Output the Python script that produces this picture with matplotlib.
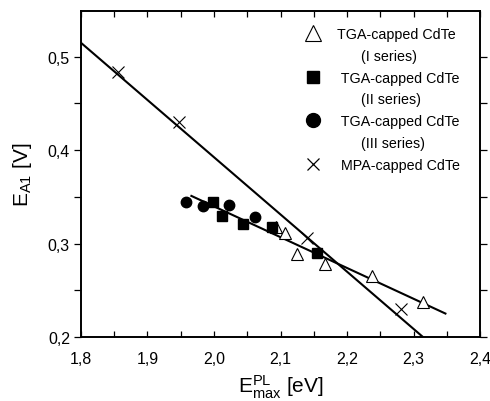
import matplotlib
matplotlib.use("Agg")
import matplotlib.pyplot as plt
from matplotlib.lines import Line2D
from matplotlib.ticker import FuncFormatter, MultipleLocator

plt.rcParams["font.family"] = ["Liberation Sans", "DejaVu Sans"]
plt.rcParams["mathtext.fontset"] = "custom"
plt.rcParams["mathtext.rm"] = "Liberation Sans"

# TGA-capped CdTe, I series (open triangles)
tga1_x = [2.093, 2.107, 2.125, 2.167, 2.237, 2.315]
tga1_y = [0.318, 0.311, 0.289, 0.278, 0.265, 0.237]
# TGA-capped CdTe, II series (filled squares)
tga2_x = [1.998, 2.012, 2.043, 2.087, 2.155]
tga2_y = [0.345, 0.329, 0.321, 0.318, 0.290]
# TGA-capped CdTe, III series (filled circles)
tga3_x = [1.958, 1.983, 2.022, 2.062]
tga3_y = [0.345, 0.340, 0.341, 0.328]
# MPA-capped CdTe (crosses)
mpa_x = [1.855, 1.948, 2.140, 2.281]
mpa_y = [0.484, 0.430, 0.306, 0.230]

# fitted lines (end points)
fit_mpa_x = [1.80, 2.314]
fit_mpa_y = [0.515, 0.200]
fit_tga_x = [1.966, 2.348]
fit_tga_y = [0.351, 0.225]

fig = plt.figure(figsize=(4.9, 4.02), dpi=100)
ax = fig.add_axes([0.1653, 0.1595, 0.8143, 0.8105])

ax.plot(fit_mpa_x, fit_mpa_y, color="black", lw=1.5, zorder=2)
ax.plot(fit_tga_x, fit_tga_y, color="black", lw=1.5, zorder=2)

ax.plot(tga1_x, tga1_y, ls="none", marker="^", ms=8.5, mfc="white",
        mec="black", mew=0.8, zorder=3)
ax.plot(tga2_x, tga2_y, ls="none", marker="s", ms=7, color="black", zorder=4)
ax.plot(tga3_x, tga3_y, ls="none", marker="o", ms=7.5, color="black", zorder=4)
ax.plot(mpa_x, mpa_y, ls="none", marker="x", ms=8, color="black", mew=0.8,
        zorder=3)

ax.set_xlim(1.8, 2.4)
ax.set_ylim(0.2, 0.549)

comma = FuncFormatter(lambda v, pos: f"{v:.1f}".replace(".", ","))
ax.xaxis.set_major_locator(MultipleLocator(0.1))
ax.xaxis.set_minor_locator(MultipleLocator(0.05))
ax.yaxis.set_major_locator(MultipleLocator(0.1))
ax.yaxis.set_minor_locator(MultipleLocator(0.05))
ax.xaxis.set_major_formatter(comma)
ax.yaxis.set_major_formatter(comma)

for side in ax.spines.values():
    side.set_linewidth(1.4)

ax.tick_params(axis="x", which="both", direction="in", top=True, length=4.5,
               width=0.9, labelsize=11.5, pad=10)
ax.tick_params(axis="y", which="both", direction="out", length=5,
               width=0.9, labelsize=11.5, pad=3)
ax.tick_params(axis="y", which="both", right=True)

ax.set_xlabel(r"$\mathregular{E_{max}^{PL}}$ [eV]", fontsize=15, labelpad=5)
ax.set_ylabel(r"$\mathregular{E_{A1}}$ [V]", fontsize=15, labelpad=10)

handles = [
    Line2D([], [], ls="none", marker="^", ms=11, mfc="white", mec="black", mew=0.8),
    Line2D([], [], ls="none"),
    Line2D([], [], ls="none", marker="s", ms=8, color="black"),
    Line2D([], [], ls="none"),
    Line2D([], [], ls="none", marker="o", ms=10, color="black"),
    Line2D([], [], ls="none"),
    Line2D([], [], ls="none", marker="x", ms=9, color="black", mew=0.9),
]
labels = [
    "TGA-capped CdTe",
    "      (I series)",
    " TGA-capped CdTe",
    "      (II series)",
    " TGA-capped CdTe",
    "      (III series)",
    " MPA-capped CdTe",
]
ax.legend(handles, labels, loc="upper left", frameon=False, fontsize=10.3,
          labelspacing=0.54, handlelength=1.2, handletextpad=1.08,
          borderpad=0.4, bbox_to_anchor=(0.527, 0.99))

fig.savefig("out.png", dpi=100)
